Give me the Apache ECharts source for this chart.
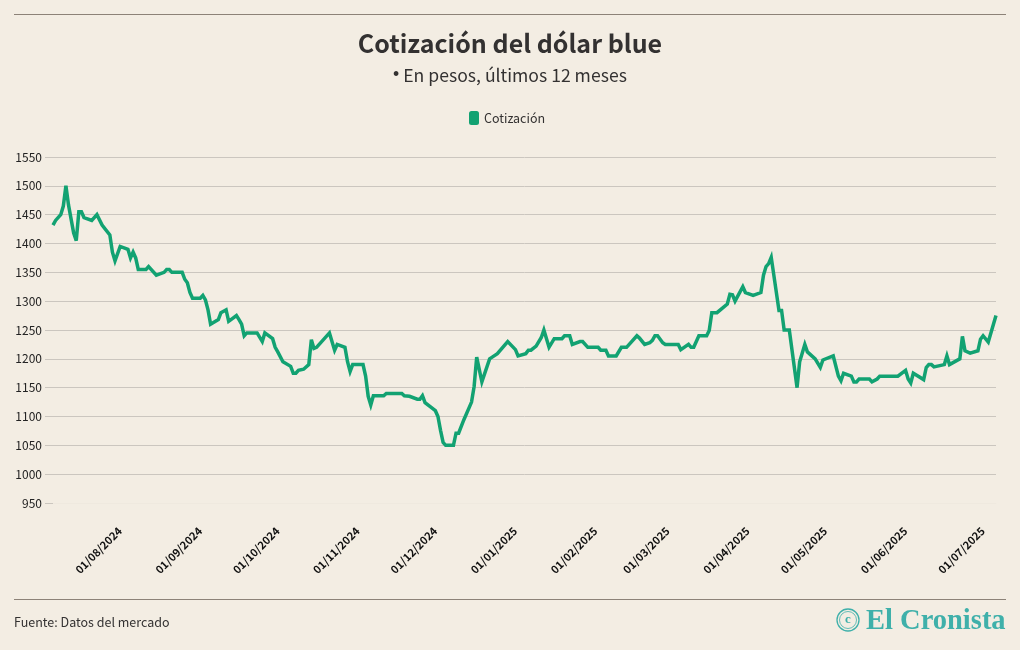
<!DOCTYPE html>
<html>
<head>
<meta charset="UTF-8">
<script src="https://cdn.jsdelivr.net/npm/echarts@6/dist/echarts.min.js"></script>
<style>
html, body { margin: 0; padding: 0; background: #f3ede3; }
#chart { width: 1020px; height: 650px; }
</style>
</head>
<body>
<div id="chart"></div>
<script>
var titulo = 'Cotización del dólar blue';
var subtitulo = '{b|•} En pesos, últimos 12 meses';
var fuente = 'Fuente: Datos del mercado';
var marca = 'El Cronista';
var serieNombre = 'Cotización';

var fechas = [
	'2024-07-05','2024-07-06','2024-07-08','2024-07-09','2024-07-10','2024-07-11','2024-07-13','2024-07-14','2024-07-15','2024-07-16',
	'2024-07-17','2024-07-20','2024-07-22','2024-07-24','2024-07-27','2024-07-28','2024-07-29','2024-07-31','2024-08-03','2024-08-04',
	'2024-08-05','2024-08-06','2024-08-07','2024-08-10','2024-08-11','2024-08-14','2024-08-17','2024-08-18','2024-08-19','2024-08-20',
	'2024-08-24','2024-08-25','2024-08-26','2024-08-27','2024-08-28','2024-08-31','2024-09-01','2024-09-02','2024-09-03','2024-09-04',
	'2024-09-07','2024-09-08','2024-09-10','2024-09-11','2024-09-14','2024-09-15','2024-09-16','2024-09-17','2024-09-18','2024-09-22',
	'2024-09-24','2024-09-25','2024-09-28','2024-09-29','2024-09-30','2024-10-02','2024-10-05','2024-10-06','2024-10-07','2024-10-08',
	'2024-10-10','2024-10-12','2024-10-13','2024-10-14','2024-10-15','2024-10-20','2024-10-22','2024-10-23','2024-10-26','2024-10-27',
	'2024-10-28','2024-10-29','2024-11-02','2024-11-03','2024-11-04','2024-11-05','2024-11-06','2024-11-10','2024-11-11','2024-11-17',
	'2024-11-18','2024-11-20','2024-11-23','2024-11-24','2024-11-25','2024-11-26','2024-11-28','2024-11-30','2024-12-01','2024-12-02',
	'2024-12-03','2024-12-04','2024-12-07','2024-12-08','2024-12-09','2024-12-11','2024-12-14','2024-12-15','2024-12-16','2024-12-18',
	'2024-12-21','2024-12-22','2024-12-24','2024-12-28','2024-12-31','2025-01-01','2025-01-04','2025-01-05','2025-01-06','2025-01-08',
	'2025-01-10','2025-01-11','2025-01-13','2025-01-15','2025-01-18','2025-01-19','2025-01-21','2025-01-22','2025-01-25','2025-01-26',
	'2025-01-28','2025-02-01','2025-02-02','2025-02-04','2025-02-05','2025-02-08','2025-02-10','2025-02-12','2025-02-16','2025-02-17',
	'2025-02-19','2025-02-21','2025-02-22','2025-02-23','2025-02-24','2025-02-26','2025-02-27','2025-03-04','2025-03-05','2025-03-08',
	'2025-03-09','2025-03-10','2025-03-12','2025-03-15','2025-03-16','2025-03-17','2025-03-19','2025-03-23','2025-03-24','2025-03-25',
	'2025-03-26','2025-03-29','2025-03-30','2025-04-02','2025-04-05','2025-04-06','2025-04-07','2025-04-08','2025-04-09','2025-04-12',
	'2025-04-13','2025-04-14','2025-04-16','2025-04-19','2025-04-20','2025-04-22','2025-04-23','2025-04-26','2025-04-28','2025-04-29',
	'2025-05-03','2025-05-05','2025-05-06','2025-05-07','2025-05-10','2025-05-11','2025-05-12','2025-05-13','2025-05-17','2025-05-18',
	'2025-05-20','2025-05-21','2025-05-28','2025-05-31','2025-06-01','2025-06-02','2025-06-03','2025-06-07','2025-06-08','2025-06-09',
	'2025-06-10','2025-06-11','2025-06-15','2025-06-16','2025-06-17','2025-06-21','2025-06-22','2025-06-23','2025-06-25','2025-06-28',
	'2025-06-29','2025-06-30','2025-07-02','2025-07-05'
];

var cotizacion = [
	1432,1440,1450,1465,1500,1467,1418,1405,1455,1455,
	1445,1440,1450,1432,1415,1385,1370,1395,1390,1375,
	1385,1375,1355,1355,1360,1345,1350,1355,1355,1350,
	1350,1338,1332,1315,1305,1305,1310,1302,1285,1260,
	1268,1280,1285,1265,1275,1268,1260,1240,1245,1245,
	1230,1245,1235,1220,1212,1195,1187,1175,1175,1180,
	1182,1190,1233,1218,1220,1245,1215,1225,1220,1195,
	1178,1190,1190,1170,1135,1120,1136,1136,1140,1140,
	1136,1135,1130,1130,1136,1124,1117,1110,1100,1076,
	1055,1050,1050,1071,1071,1094,1125,1152,1203,1160,
	1200,1203,1209,1230,1216,1205,1209,1215,1215,1222,
	1237,1250,1220,1235,1235,1240,1240,1225,1230,1230,
	1220,1220,1215,1215,1205,1205,1220,1220,1240,1236,
	1225,1228,1232,1240,1240,1228,1225,1225,1216,1225,
	1220,1220,1240,1240,1249,1280,1280,1295,1312,1311,
	1300,1325,1315,1310,1315,1345,1360,1365,1376,1284,
	1284,1250,1250,1150,1195,1225,1212,1200,1185,1198,
	1205,1170,1162,1175,1170,1160,1160,1165,1165,1160,
	1165,1170,1170,1180,1165,1158,1175,1164,1185,1190,
	1190,1186,1190,1205,1190,1200,1239,1214,1210,1214,
	1234,1240,1229,1275
];

var marcasMes = [
	'2024-08-01','2024-09-01','2024-10-01','2024-11-01','2024-12-01','2025-01-01',
	'2025-02-01','2025-03-01','2025-04-01','2025-05-01','2025-06-01','2025-07-01'
];

var fuenteTexto = '"Noto Sans CJK SC", "Noto Sans", sans-serif';
var colorFondo = '#f3ede3';
var colorLinea = '#12a272';
var colorTexto = '#333131';
var colorGrid = '#cbc6bf';
var colorRegla = '#8c8278';
var colorMarca = '#3fb0aa';

//las fechas se pasan a milisegundos para el eje
function aMs(fecha) {
	return new Date(fecha + 'T00:00:00Z').getTime();
}

var puntos = [];
for (var i = 0; i < fechas.length; i++) {
	puntos.push([aMs(fechas[i]), cotizacion[i]]);
}
var marcasX = marcasMes.map(aMs);

var myChart = echarts.init(document.getElementById('chart'));

myChart.setOption({
	backgroundColor: colorFondo,
	animation: false,
	textStyle: { fontFamily: fuenteTexto },
	title: {
		text: titulo,
		subtext: subtitulo,
		left: 'center',
		top: 26,
		itemGap: 10,
		textStyle: { fontFamily: fuenteTexto, fontSize: 25, fontWeight: 'bold', color: colorTexto },
		subtextStyle: {
			fontFamily: fuenteTexto,
			fontSize: 17.6,
			color: colorTexto,
			rich: { b: { fontFamily: '"Liberation Sans", sans-serif', fontSize: 17.6, color: colorTexto, verticalAlign: 'bottom' } }
		}
	},
	legend: {
		top: 106,
		left: 464,
		itemWidth: 10,
		itemHeight: 14,
		icon: 'roundRect',
		textStyle: { fontFamily: fuenteTexto, fontSize: 12.5, color: colorTexto },
		data: [serieNombre]
	},
	grid: { left: 53, right: 24, top: 157, bottom: 147 },
	xAxis: {
		type: 'value',
		scale: true,
		min: aMs(fechas[0]),
		max: aMs(fechas[fechas.length - 1]),
		axisLine: { lineStyle: { color: '#efe9df' } },
		axisTick: { show: false },
		splitLine: { show: false },
		axisLabel: {
			customValues: marcasX,
			rotate: 45,
			margin: 23,
			padding: [0, 4, 0, 0],
			fontSize: 11,
			fontWeight: 'bold',
			color: '#111',
			fontFamily: fuenteTexto,
			formatter: function(v) {
				return marcasMes[marcasX.indexOf(v)].split('-').reverse().join('/');
			}
		}
	},
	yAxis: {
		type: 'value',
		min: 950,
		max: 1550,
		interval: 50,
		axisLine: { show: false },
		axisTick: { show: true, length: 8, lineStyle: { color: colorGrid } },
		splitLine: { showMinLine: false, lineStyle: { color: colorGrid, width: 1 } },
		axisLabel: {
			margin: 11,
			fontSize: 12,
			color: '#222',
			fontFamily: fuenteTexto,
			formatter: function(v) { return String(v); }
		}
	},
	series: [{
		name: serieNombre,
		type: 'line',
		data: puntos,
		showSymbol: false,
		symbol: 'none',
		smooth: false,
		itemStyle: { color: colorLinea },
		lineStyle: { color: colorLinea, width: 3.5, join: 'miter', miterLimit: 4 }
	}],
	graphic: [
		{ type: 'line', shape: { x1: 14, y1: 14.5, x2: 1006, y2: 14.5 }, style: { stroke: colorRegla, lineWidth: 1 } },
		{ type: 'line', shape: { x1: 14, y1: 599.5, x2: 1006, y2: 599.5 }, style: { stroke: colorRegla, lineWidth: 1 } },
		{ type: 'text', left: 14, top: 616, style: { text: fuente, fontFamily: fuenteTexto, fontSize: 12.5, fill: colorTexto } },
		{ type: 'circle', shape: { cx: 848, cy: 620, r: 11 }, style: { fill: 'none', stroke: colorMarca, lineWidth: 1.3 } },
		{ type: 'circle', shape: { cx: 848, cy: 620, r: 8.5 }, style: { fill: 'none', stroke: colorMarca, lineWidth: 0.8 } },
		{ type: 'text', x: 848, y: 620, style: { text: 'c', align: 'center', verticalAlign: 'middle', fontFamily: '"Liberation Serif", serif', fontWeight: 'bold', fontSize: 13, fill: colorMarca } },
		{ type: 'text', x: 866, y: 607, style: { text: marca, fontFamily: '"Liberation Serif", serif', fontWeight: 'bold', fontSize: 28.5, fill: colorMarca } }
	]
});
</script>
</body>
</html>
